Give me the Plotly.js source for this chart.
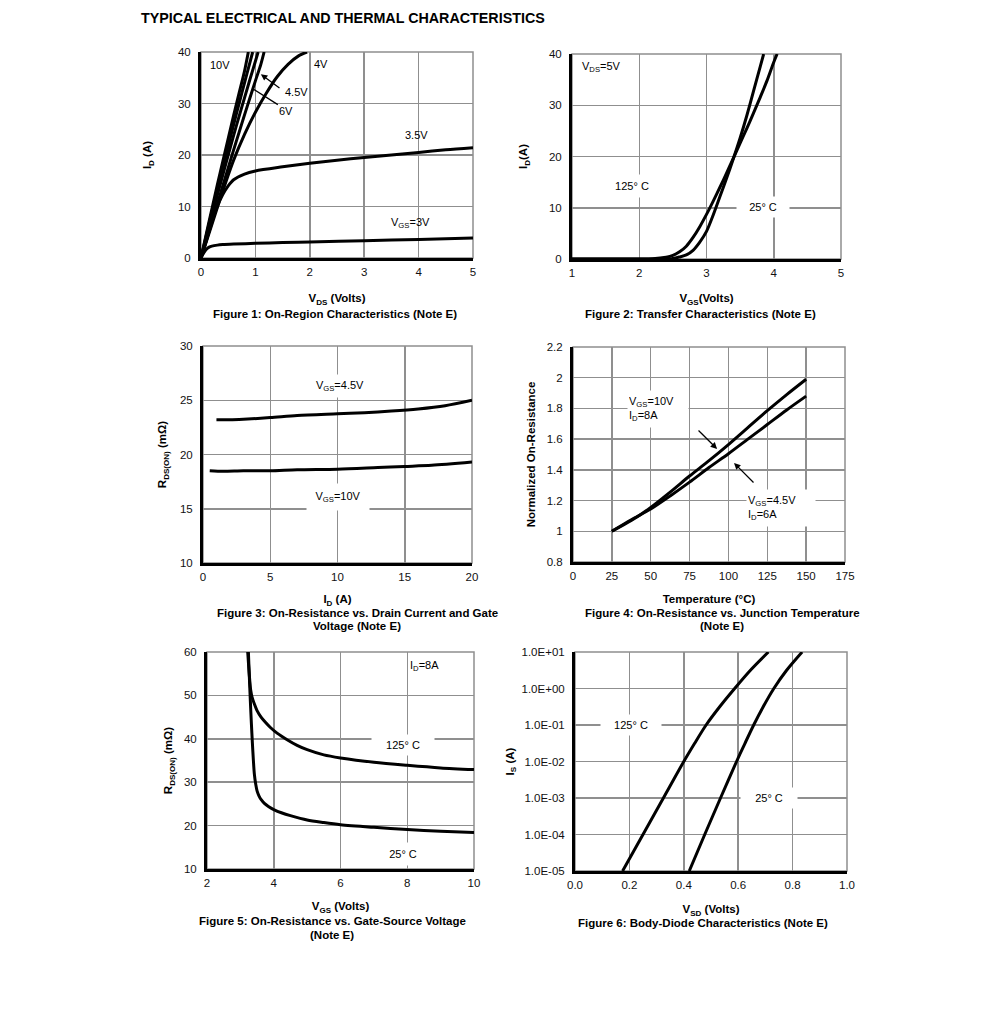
<!DOCTYPE html>
<html><head><meta charset="utf-8">
<script src="https://cdn.plot.ly/plotly-3.0.1.min.js"></script>
<style>html,body{margin:0;padding:0;background:#fff}</style>
</head><body><div id="chart" style="width:991px;height:1025px"></div>
<script>
// ---------- DATA ----------
// Figure 1: On-region characteristics (VDS in V, ID in A)
const f1_vds_10V = [0,0.1,0.2,0.3,0.4,0.5,0.6,0.7,0.8,0.87];
const f1_id_10V  = [0,4.8,9.5,14.2,18.7,23.2,27.7,32,36.3,40];
const f1_vds_7V  = [0,0.1,0.2,0.3,0.4,0.5,0.6,0.7,0.8,0.9,0.95];
const f1_id_7V   = [0,4.5,8.9,13.2,17.5,21.7,25.9,30,34,38,40];
const f1_vds_6V  = [0,0.1,0.2,0.3,0.4,0.5,0.6,0.7,0.8,0.9,1.0,1.05];
const f1_id_6V   = [0,4.1,8.2,12.2,16.1,20,23.8,27.5,31.1,34.7,38.2,40];
const f1_vds_45V = [0,0.1,0.2,0.3,0.4,0.5,0.6,0.7,0.8,0.9,1.0,1.1,1.16];
const f1_id_45V  = [0,3.5,7,10.5,14,17.5,21,24.4,27.8,31.1,34.4,37.6,40];
const f1_vds_4V  = [0,0.2,0.4,0.6,0.8,1.0,1.2,1.4,1.6,1.8,1.95];
const f1_id_4V   = [0,6.5,13,19,24,28.3,32,35.2,37.6,39.3,40];
const f1_vds_35V = [0,0.1,0.2,0.3,0.4,0.5,0.6,0.8,1.0,1.5,2,2.5,3,3.5,4,4.5,5];
const f1_id_35V  = [0,3.5,7,10,12.3,14,15.2,16.3,16.9,17.7,18.4,19,19.5,20,20.5,21,21.4];
const f1_vds_3V  = [0,0.05,0.1,0.15,0.2,0.3,0.4,0.6,1,1.5,2,3,4,5];
const f1_id_3V   = [0,1.0,1.7,2.1,2.3,2.5,2.6,2.7,2.85,3.0,3.1,3.35,3.6,3.9];

// Figure 2: Transfer characteristics (VGS in V, ID in A)
const f2_vgs_125C = [1,2,2.2,2.4,2.5,2.6,2.7,2.8,2.9,3.0,3.1,3.2,3.3,3.4,3.5,3.6,3.7,3.8,3.9,4.0,4.05];
const f2_id_125C  = [0,0,0.05,0.35,0.7,1.4,2.5,4.2,6.3,8.7,11.3,14,16.8,19.7,22.6,25.5,28.5,31.6,34.8,38.4,40];
const f2_vgs_25C  = [1,2,2.3,2.5,2.6,2.7,2.8,2.9,3.0,3.1,3.2,3.3,3.4,3.5,3.6,3.7,3.8,3.85];
const f2_id_25C   = [0,0,0.01,0.1,0.4,0.8,1.7,3.3,5.4,8.6,12.2,15.8,19.6,23.6,28,32.8,37.6,40];

// Figure 3: RDS(ON) vs ID (mOhm)
const f3_id_45V  = [1,2,3,5,7,10,12,14,16,18,20];
const f3_r_45V   = [23.2,23.2,23.25,23.4,23.6,23.75,23.85,24.0,24.2,24.5,25.0];
const f3_id_10V  = [0.5,1.5,3,5,7,10,13,15,17,20];
const f3_r_10V   = [18.5,18.45,18.5,18.5,18.6,18.65,18.8,18.9,19.0,19.3];

// Figure 4: Normalized on-resistance vs temperature
const f4_temp   = [25,37.5,50,62.5,75,87.5,100,112.5,125,137.5,150];
const f4_r_10V  = [1,1.07,1.155,1.255,1.36,1.46,1.565,1.675,1.785,1.89,1.99];
const f4_r_45V  = [1,1.075,1.145,1.23,1.32,1.415,1.505,1.6,1.695,1.79,1.88];

// Figure 5: RDS(ON) vs VGS (mOhm)
const f5_vgs_25C  = [3.24,3.27,3.3,3.33,3.36,3.39,3.42,3.46,3.5,3.56,3.63,3.72,3.84,4.0,4.25,4.5,5,5.5,6,7,8,9,10];
const f5_r_25C    = [60,54,48.5,43.5,39,35,31.8,29.5,28,26.8,25.9,25.1,24.4,23.7,22.9,22.3,21.3,20.7,20.2,19.6,19.1,18.7,18.4];
const f5_vgs_125C = [3.22,3.25,3.28,3.31,3.35,3.42,3.5,3.62,3.75,3.9,4.1,4.4,4.7,5,5.5,6,7,8,9,10];
const f5_r_125C   = [60,56.5,53.5,51.2,49.6,48,46.5,45,43.8,42.6,41.3,39.8,38.5,37.5,36.3,35.6,34.6,33.9,33.3,32.9];

// Figure 6: Body-diode characteristics (VSD in V, IS in A)
const f6_vsd_125C = [0.175,0.25,0.325,0.4,0.44,0.482,0.532,0.587,0.645,0.711];
const f6_is_125C  = [1e-5,1e-4,1e-3,1e-2,0.0316,0.1,0.316,1,3.16,10];
const f6_vsd_25C  = [0.42,0.477,0.535,0.594,0.625,0.657,0.692,0.731,0.778,0.835];
const f6_is_25C   = [1e-5,1e-4,1e-3,1e-2,0.0316,0.1,0.316,1,3.16,10];

const f6_tickvals = [1e-5,1e-4,1e-3,1e-2,1e-1,1,10];
const f6_ticktext = ["1.0E-05","1.0E-04","1.0E-03","1.0E-02","1.0E-01","1.0E+00","1.0E+01"];

// ---------- LAYOUT HELPERS ----------
const W = 991, H = 1025;
const FONT = "Liberation Sans, Arial, Helvetica, sans-serif";
function dx(a,b){ return [a/W, b/W]; }
function dy(top,bottom){ return [1-bottom/H, 1-top/H]; }

const boxes = [
  {x:[201,473], y:[52,258]},
  {x:[572,841], y:[54,259]},
  {x:[203,472], y:[346,563]},
  {x:[573,845], y:[347,562]},
  {x:[207,474], y:[652,869]},
  {x:[575,847], y:[652,871]}
];

const TICKFONT = {family:FONT,size:11.5,color:'#111'};
function xax(i, range, dtick, title, standoff, extra){
  return Object.assign({
    domain: dx(boxes[i].x[0], boxes[i].x[1]), anchor: 'y'+(i?i+1:''),
    range: range, dtick: dtick, tick0: range[0], autorange:false, fixedrange:true,
    showline:true, linecolor:'#000', linewidth:3, mirror:false,
    showgrid:true, gridcolor:'#8f8f8f', gridwidth:1.5, zeroline:false,
    ticks:'', tickfont:TICKFONT, ticklabelstandoff:1,
    title:{text:title, font:{family:FONT,size:11.5,color:'#000'}, standoff:standoff},
    automargin:false
  }, extra||{});
}
function yax(i, range, dtick, title, standoff, extra){
  return Object.assign({
    domain: dy(boxes[i].y[0], boxes[i].y[1]), anchor: 'x'+(i?i+1:''),
    range: range, dtick: dtick, tick0: range[0], autorange:false, fixedrange:true,
    showline:true, linecolor:'#000', linewidth:3, mirror:false,
    showgrid:true, gridcolor:'#8f8f8f', gridwidth:1.5, zeroline:false,
    ticks:'', tickfont:TICKFONT, ticklabelstandoff:5,
    title:{text:title, font:{family:FONT,size:11.5,color:'#000'}, standoff:standoff},
    automargin:false
  }, extra||{});
}

function line(x,y,i,name){
  const s = i?String(i+1):'';
  return {x:x, y:y, xaxis:'x'+s, yaxis:'y'+s, type:'scatter', mode:'lines', name:name,
          line:{color:'#000', width:3, shape:'spline', smoothing:0.8}, showlegend:false, hoverinfo:'skip'};
}

const traces = [
  line(f1_vds_10V,f1_id_10V,0,'10V'),
  line(f1_vds_7V,f1_id_7V,0,'7V'),
  line(f1_vds_6V,f1_id_6V,0,'6V'),
  line(f1_vds_45V,f1_id_45V,0,'4.5V'),
  line(f1_vds_4V,f1_id_4V,0,'4V'),
  line(f1_vds_35V,f1_id_35V,0,'3.5V'),
  line(f1_vds_3V,f1_id_3V,0,'3V'),
  line(f2_vgs_125C,f2_id_125C,1,'125°C'),
  line(f2_vgs_25C,f2_id_25C,1,'25°C'),
  line(f3_id_45V,f3_r_45V,2,'VGS=4.5V'),
  line(f3_id_10V,f3_r_10V,2,'VGS=10V'),
  line(f4_temp,f4_r_10V,3,'VGS=10V'),
  line(f4_temp,f4_r_45V,3,'VGS=4.5V'),
  line(f5_vgs_25C,f5_r_25C,4,'25°C'),
  line(f5_vgs_125C,f5_r_125C,4,'125°C'),
  line(f6_vsd_125C,f6_is_125C,5,'125°C'),
  line(f6_vsd_25C,f6_is_25C,5,'25°C')
];

const B = s => '<b>'+s+'</b>';

// plot-area labels
function lab(i, x, y, text, opts){
  const s = i?String(i+1):'';
  return Object.assign({xref:'x'+s, yref:'y'+s, x:x, y:y, text:text, showarrow:false,
    font:{family:FONT,size:11,color:'#000'}}, opts||{});
}
function arrow(i, x, y, ax, ay, head){
  const s = i?String(i+1):'';
  return {xref:'x'+s, yref:'y'+s, axref:'x'+s, ayref:'y'+s, x:x, y:y, ax:ax, ay:ay, text:'',
    showarrow:true, arrowhead:head, arrowsize:1, arrowwidth:1.3, arrowcolor:'#000', standoff:0, startstandoff:0};
}
function cap(px, py, text, size){
  return {xref:'paper', yref:'paper', x:px/W, y:1-py/H, xanchor:'center', yanchor:'middle',
    text:text, showarrow:false, font:{family:FONT,size:size||11.5,color:'#000'}};
}
const WB = {bgcolor:'#fff'};

const annotations = [
  // fig 1
  lab(0, 0.35, 37.5, '10V'),
  lab(0, 2.2, 37.7, '4V'),
  lab(0, 1.75, 32.2, '4.5V'),
  lab(0, 1.56, 28.6, '6V'),
  lab(0, 3.97, 23.9, '3.5V'),
  lab(0, 3.86, 6.8, 'V<sub>GS</sub>=3V'),
  arrow(0, 1.10, 35.7, 1.47, 32.8, 2),
  arrow(0, 0.96, 32.8, 1.44, 29.6, 0),
  // fig 2
  lab(1, 1.12, 37.5, 'V<sub>DS</sub>=5V', {xanchor:'left'}),
  lab(1, 1.89, 14.2, '125° C', Object.assign({width:44, height:20}, WB)),
  lab(1, 3.84, 10.1, '25° C', Object.assign({width:50, height:18}, WB)),
  // fig 3
  lab(2, 10.2, 26.3, 'V<sub>GS</sub>=4.5V', Object.assign({width:62, height:20}, WB)),
  lab(2, 10.0, 16.1, 'V<sub>GS</sub>=10V', Object.assign({width:60, height:24}, WB)),
  // fig 4
  lab(3, 55, 1.795, 'V<sub>GS</sub>=10V<br>I<sub>D</sub>=8A', Object.assign({align:'left', width:58, height:34}, WB)),
  arrow(3, 92.7, 1.536, 79.8, 1.666, 2),
  lab(3, 134, 1.15, 'V<sub>GS</sub>=4.5V<br>I<sub>D</sub>=6A', Object.assign({align:'left', width:66, height:34}, WB)),
  arrow(3, 103.6, 1.445, 117.1, 1.308, 2),
  // fig 5
  lab(4, 8.53, 56.8, 'I<sub>D</sub>=8A'),
  lab(4, 7.87, 38.6, '125° C', Object.assign({width:60, height:18}, WB)),
  lab(4, 7.87, 13.5, '25° C', Object.assign({width:44, height:20}, WB)),
  // fig 6 (log axis: y in log10 units)
  lab(5, 0.206, -1.0, '125° C', Object.assign({width:58, height:18}, WB)),
  lab(5, 0.713, -3.0, '25° C', Object.assign({width:54, height:18}, WB)),
  // captions
  cap(335, 314, B('Figure 1: On-Region Characteristics (Note E)')),
  cap(700, 314, B('Figure 2: Transfer Characteristics (Note E)')),
  cap(357, 613, B('Figure 3: On-Resistance vs. Drain Current and Gate')),
  cap(357, 626, B('Voltage (Note E)')),
  cap(722, 613, B('Figure 4: On-Resistance vs. Junction Temperature')),
  cap(722, 626, B('(Note E)')),
  cap(332, 921, B('Figure 5: On-Resistance vs. Gate-Source Voltage')),
  cap(332, 935, B('(Note E)')),
  cap(703, 923, B('Figure 6: Body-Diode Characteristics (Note E)'))
];

const shapes = boxes.map((b,i)=>{
  const s = i?String(i+1):'';
  return {type:'rect', xref:'x'+s+' domain', yref:'y'+s+' domain', x0:0, x1:1, y0:0, y1:1,
          line:{color:'#8f8f8f', width:1.5}, layer:'below'};
});

const layout = {
  width:W, height:H, margin:{l:0,r:0,t:0,b:0}, autosize:false,
  paper_bgcolor:'#fff', plot_bgcolor:'#fff', showlegend:false,
  font:{family:FONT, size:11, color:'#000'},
  title:{text:B('TYPICAL ELECTRICAL AND THERMAL CHARACTERISTICS'), x:141/W, xanchor:'left', xref:'paper',
         y:1-18/H, yanchor:'middle', yref:'paper', font:{family:FONT,size:14.3,color:'#000'}},
  xaxis:  xax(0,[0,5],1, B('V<sub>DS</sub> (Volts)'), 18),
  yaxis:  yax(0,[0,40],10, B('I<sub>D</sub> (A)'), 24),
  xaxis2: xax(1,[1,5],1, B('V<sub>GS</sub>(Volts)'), 17),
  yaxis2: yax(1,[0,40],10, B('I<sub>D</sub>(A)'), 19),
  xaxis3: xax(2,[0,20],5, B('I<sub>D</sub> (A)'), 14),
  yaxis3: yax(2,[10,30],5, B('R<sub>DS(ON)</sub> (mΩ)'), 11),
  xaxis4: xax(3,[0,175],25, B('Temperature (°C)'), 15),
  yaxis4: yax(3,[0.8,2.2],0.2, B('Normalized On-Resistance'), 9),
  xaxis5: xax(4,[2,10],2, B('V<sub>GS</sub> (Volts)'), 15),
  yaxis5: yax(4,[10,60],10, B('R<sub>DS(ON)</sub> (mΩ)'), 9),
  xaxis6: xax(5,[0,1],0.2, B('V<sub>SD</sub> (Volts)'), 16, {tickformat:'.1f'}),
  yaxis6: yax(5,[-5,1],null, B('I<sub>S</sub> (A)'), 5, {type:'log', tickmode:'array', tickvals:f6_tickvals, ticktext:f6_ticktext}),
  annotations: annotations,
  shapes: shapes
};

Plotly.newPlot('chart', traces, layout, {staticPlot:true, displayModeBar:false});
</script></body></html>
